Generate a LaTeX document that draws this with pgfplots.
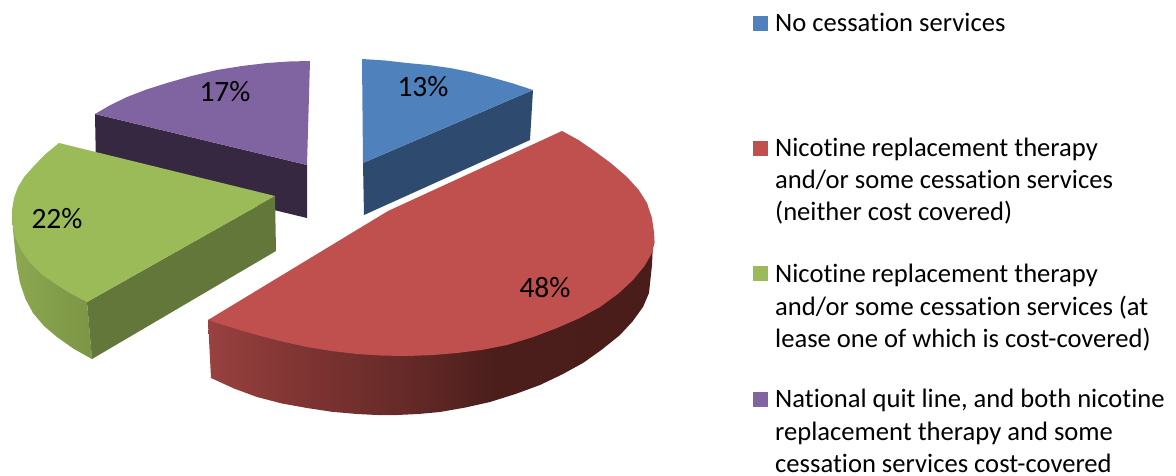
\documentclass[border=0pt]{standalone}
\usepackage{pgfplots}
\pgfplotsset{compat=1.18}
\usepackage{fontspec}
\setmainfont[Ligatures=CommonOff]{Carlito}
\definecolor{cBlue}{HTML}{4F81BD}
\definecolor{cBlueD}{HTML}{2E4B6F}
\definecolor{cRed}{HTML}{C0504D}
\definecolor{cGreen}{HTML}{9BBB59}
\definecolor{cGreenD}{HTML}{64773A}
\definecolor{cGreenL}{HTML}{8CA850}
\definecolor{cGreenR}{HTML}{7B9545}
\definecolor{cPurple}{HTML}{8064A2}
\definecolor{cPurpleD}{HTML}{352840}
\definecolor{rA}{HTML}{984140}
\definecolor{rB}{HTML}{7D3432}
\definecolor{rC}{HTML}{662A28}
\definecolor{rD}{HTML}{4B1E1C}
\definecolor{rE}{HTML}{4A1D1B}
\pgfdeclarehorizontalshading{redwall}{100bp}{color(0bp)=(rA); color(25bp)=(rA); color(36bp)=(rB); color(47bp)=(rC); color(57bp)=(rD); color(75bp)=(rE); color(100bp)=(rE)}
\tikzset{
  lab/.style={anchor=center, font=\fontsize{29.5}{29.5}\selectfont, text=black, inner sep=0pt},
  leg/.style={anchor=base west, font=\fontsize{26.6}{26.6}\selectfont, text=black, inner sep=0pt},
}
\begin{document}
\begin{tikzpicture}
\path[use as bounding box] (0,0) rectangle (1176pt,476pt);
\begin{axis}[
  at={(0,0)}, anchor=south west, scale only axis,
  width=1176pt, height=476pt,
  xmin=0, xmax=1176, ymin=0, ymax=476, y dir=reverse,
  hide axis, clip=false,
  every axis plot post/.append style={draw=none, line join=round},
]
% Purple slice (17%)
\addplot[fill=cPurpleD, mark=none] coordinates {(95,114) (307,165) (307,218) (96,167)};
\addplot[fill=cPurple, mark=none] coordinates {(307,165) (310,61) (289,61.5) (267,63) (242,66) (217,70) (191.5,76) (167,83) (146.5,89.5) (127,97) (110.5,105) (95,114)};
% Blue slice (13%)
\addplot[fill=cBlueD, mark=none] coordinates {(533,90) (363,163) (364,215) (530,140)};
\addplot[fill=cBlue, mark=none] coordinates {(363,163) (362,59) (385,60.5) (407,63) (428.5,65) (450,68) (470,72) (490,77) (511.5,83) (533,90)};
% Green slice (22%)
\addplot[left color=cGreenL, right color=cGreenR, mark=none] coordinates {(12,210) (13,230) (15,250) (17,267) (20,283) (25.5,299) (33,313) (44,326) (57,337) (74,349) (92,359) (87,302)};
\addplot[fill=cGreenD, mark=none] coordinates {(87,302) (275,196) (276,251) (92,359)};
\addplot[fill=cGreen, mark=none] coordinates {(275,196) (59,143) (45,154.5) (33,167) (24.5,176.5) (18,187) (14,198) (12,210) (12.5,224) (15,237) (21.5,251) (30,263) (42.5,275) (57,285) (71.5,294) (87,302)};
% Red slice (48%)
\addplot[shading=redwall, mark=none] coordinates {(208,320) (211,378) (234,388.5) (257,397) (282,403.5) (307,408) (332,411.8) (357,414) (377,415) (397,415) (418.5,414) (440,412) (465.5,407.5) (490,402) (515.5,394) (540,385) (562,374.5) (583,363) (602,349.5) (620,335) (632.5,321.5) (643,307) (649,293) (652,265) (653,243) (654,232)};
\addplot[fill=cRed, mark=none] coordinates {(388,211) (562,131) (578.5,140) (593,150) (610.7,163) (627,177) (638.7,189.9) (647,203) (651.9,217.8) (654,232) (654.6,242.6) (652,253) (644.4,266.1) (633,280) (618,293.9) (600,307) (579.6,318.1) (557,328) (532.4,337.3) (507,345) (482,349.9) (457,353) (432,355.1) (407,356) (382,355.6) (357,354) (332,351.1) (307,347) (282,341.5) (257,335) (232.5,327.8) (208,320)};
% Legend swatches
\addplot[only marks, mark=square*, mark size=7pt, mark options={draw=cBlue, fill=cBlue, line width=1pt}] coordinates {(760.5,23.5)};
\addplot[only marks, mark=square*, mark size=7pt, mark options={draw=cRed, fill=cRed, line width=1pt}] coordinates {(760.5,148.5)};
\addplot[only marks, mark=square*, mark size=7pt, mark options={draw=cGreen, fill=cGreen, line width=1pt}] coordinates {(760.5,273.5)};
\addplot[only marks, mark=square*, mark size=7pt, mark options={draw=cPurple, fill=cPurple, line width=1pt}] coordinates {(760.5,399)};
% Data labels
\node[lab] at (axis cs:423,87) {13\%};
\node[lab] at (axis cs:545,288) {48\%};
\node[lab] at (axis cs:57,219) {22\%};
\node[lab] at (axis cs:225,92) {17\%};
% Legend text
\node[leg] at (axis cs:775,32) {No cessation services};
\node[leg] at (axis cs:775,157) {Nicotine replacement therapy};
\node[leg] at (axis cs:775,189) {and/or some cessation services};
\node[leg] at (axis cs:775,221) {(neither cost covered)};
\node[leg] at (axis cs:775,282.5) {Nicotine replacement therapy};
\node[leg] at (axis cs:775,315) {and/or some cessation services (at};
\node[leg] at (axis cs:775,347) {lease one of which is cost-covered)};
\node[leg] at (axis cs:775,407.5) {National quit line, and both nicotine};
\node[leg] at (axis cs:775,440) {replacement therapy and some};
\node[leg] at (axis cs:775,472) {cessation services cost-covered};
\end{axis}
\end{tikzpicture}
\end{document}
